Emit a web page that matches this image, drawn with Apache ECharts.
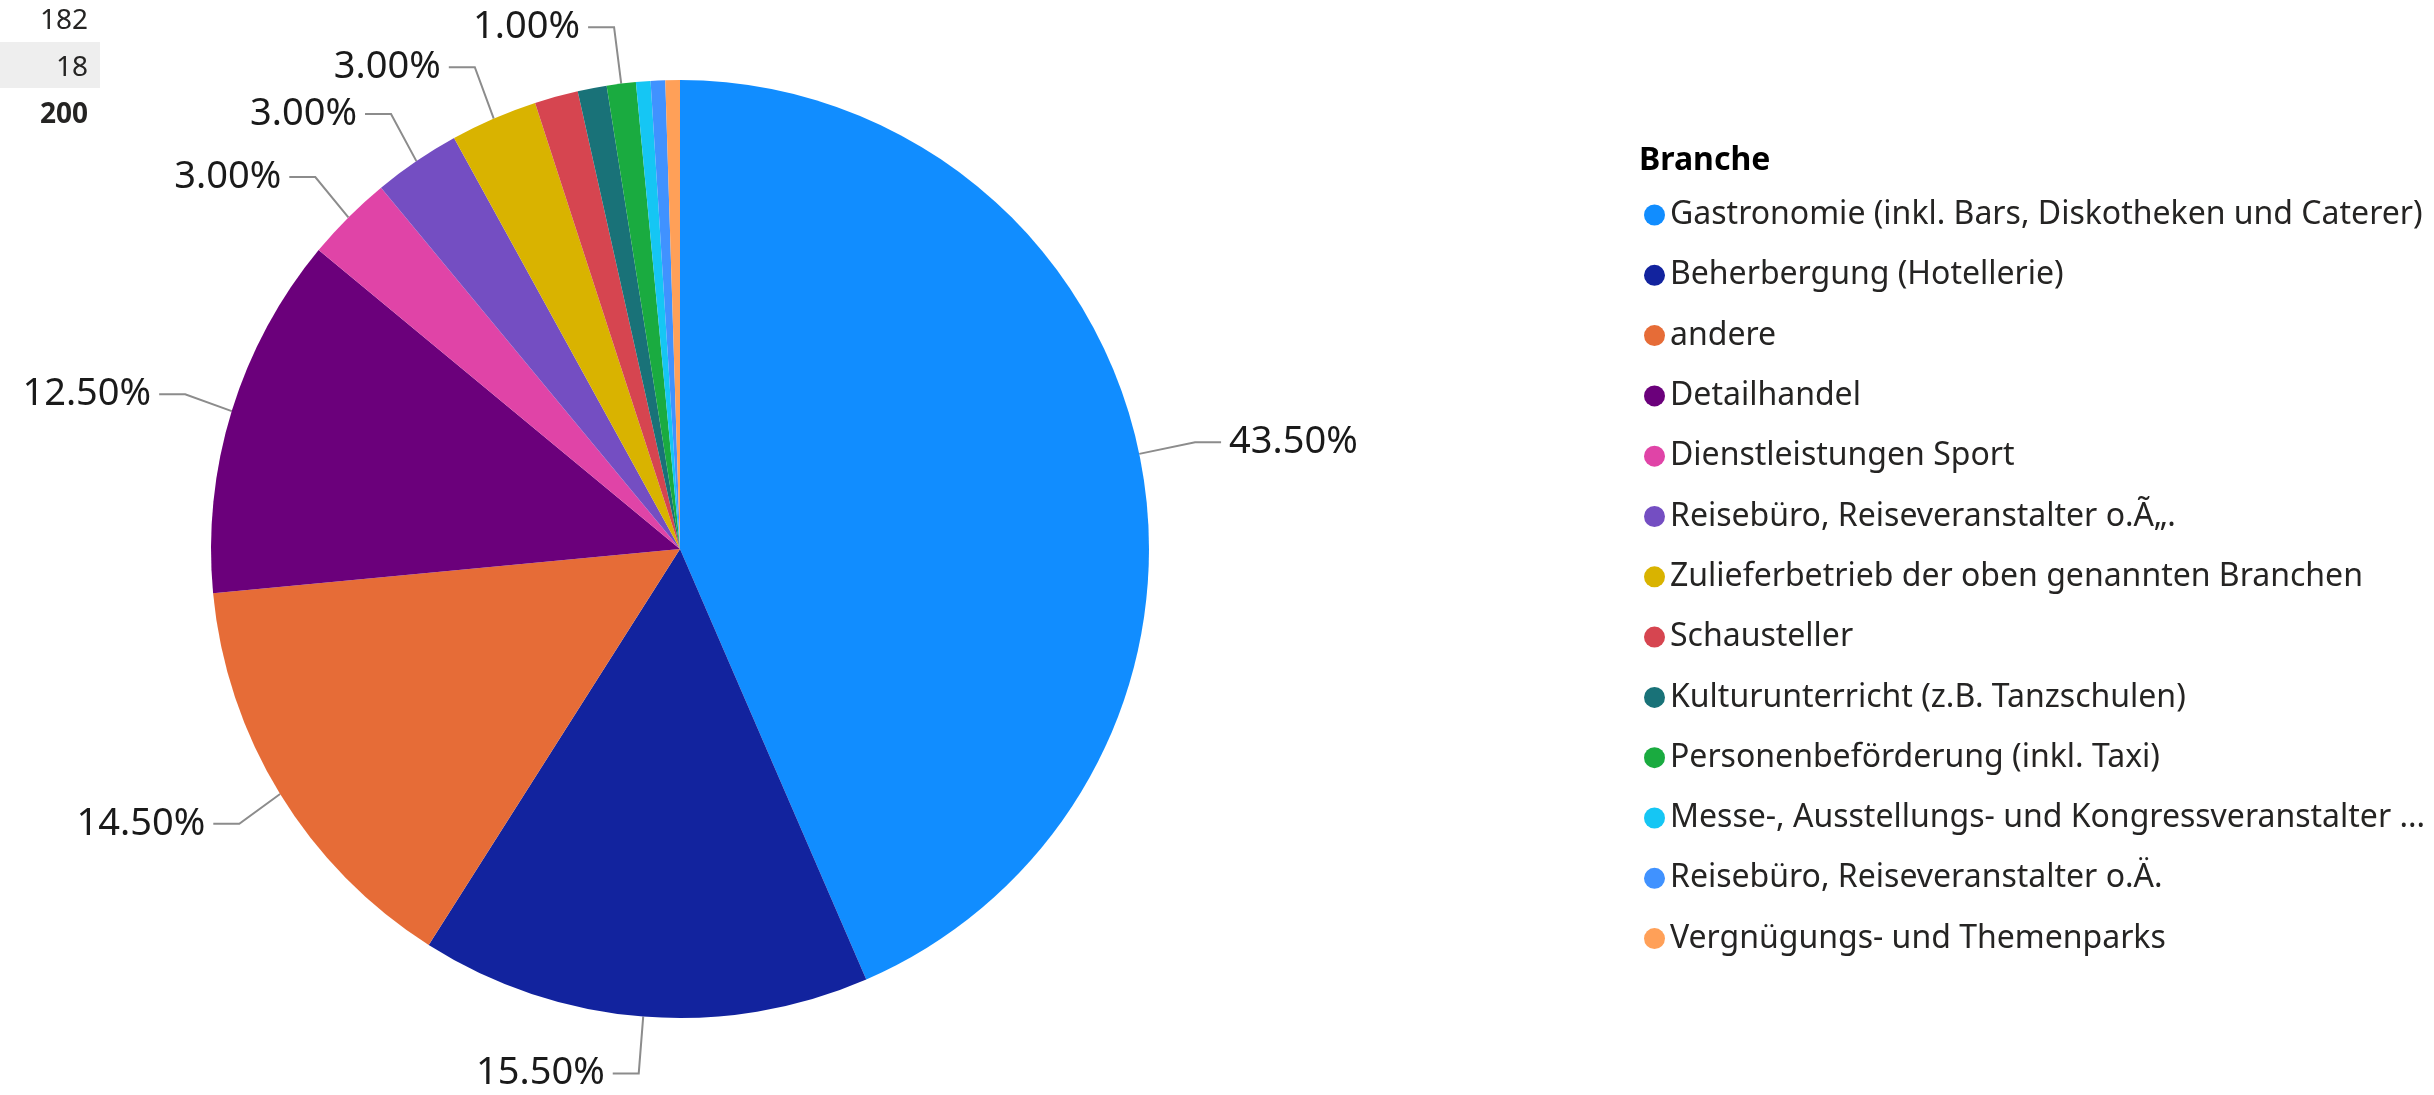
<!DOCTYPE html>
<html>
<head>
<meta charset="utf-8">
<script src="https://cdn.jsdelivr.net/npm/echarts@6/dist/echarts.min.js"></script>
<style>
  html, body { margin: 0; padding: 0; background: #fff; }
  #chart { width: 2434px; height: 1095px; }
</style>
</head>
<body>
<div id="chart"></div>
<script>
var categories = [
  'Gastronomie (inkl. Bars, Diskotheken und Caterer)',
  'Beherbergung (Hotellerie)',
  'andere',
  'Detailhandel',
  'Dienstleistungen Sport',
  'Reisebüro, Reiseveranstalter o.Ã„.',
  'Zulieferbetrieb der oben genannten Branchen',
  'Schausteller',
  'Kulturunterricht (z.B. Tanzschulen)',
  'Personenbeförderung (inkl. Taxi)',
  'Messe-, Ausstellungs- und Kongressveranstalter ...',
  'Reisebüro, Reiseveranstalter o.Ä.',
  'Vergnügungs- und Themenparks'
];
var counts = [87, 31, 29, 25, 6, 6, 6, 3, 2, 2, 1, 1, 1];
// slices that get a data label in the original
var labelled = [true, true, true, true, true, true, true, false, false, true, false, false, false];
var tableRows = ['182', '18'];
var tableTotal = '200';

var myColor = ['#118DFF', '#12239E', '#E66C37', '#6B007B', '#E044A7', '#744EC2',
  '#D9B300', '#D64550', '#197278', '#1AAB40', '#15C6F4', '#4092FF', '#FFA058'];
var font = "'Noto Sans', 'Open Sans', sans-serif";

var data = categories.map(function (name, i) {
  return {
    name: name,
    value: counts[i],
    label: { show: labelled[i] },
    labelLine: { show: labelled[i] }
  };
});

var option = {
  animation: false,
  color: myColor,
  textStyle: { fontFamily: font },
  graphic: [
    { type: 'rect', left: 0, top: 42, shape: { width: 100, height: 46 }, style: { fill: '#EEEEEE' } },
    { type: 'text', right: 2346, top: 7, style: { text: tableRows[0], font: '28px ' + font, fill: '#252423' } },
    { type: 'text', right: 2346, top: 54, style: { text: tableRows[1], font: '28px ' + font, fill: '#252423' } },
    { type: 'text', right: 2346, top: 101, style: { text: tableTotal, font: 'bold 28px ' + font, fill: '#252423' } },
    { type: 'text', left: 1639, top: 145, style: { text: 'Branche', font: 'bold 32px ' + font, fill: '#000' } }
  ],
  legend: {
    orient: 'vertical',
    left: 1639,
    top: 194,
    icon: 'circle',
    itemWidth: 21,
    itemHeight: 21,
    itemGap: 28.3,
    textStyle: { fontSize: 32, lineHeight: 32, color: '#252423', fontFamily: font },
    data: categories
  },
  series: [{
    type: 'pie',
    center: [680, 549],
    radius: 469,
    startAngle: 90,
    data: data,
    label: {
      fontSize: 38,
      color: '#1a1a1a',
      fontFamily: font,
      distanceToLabelLine: 8,
      formatter: function (p) { return p.percent.toFixed(2) + '%'; }
    },
    labelLine: {
      length: 57,
      length2: 26,
      lineStyle: { color: '#8c8c8c', width: 2 }
    },
    emphasis: { disabled: true }
  }]
};

var myChart = echarts.init(document.getElementById('chart'));
myChart.setOption(option);
window.addEventListener('resize', function () {
  myChart.resize();
});
</script>
</body>
</html>
